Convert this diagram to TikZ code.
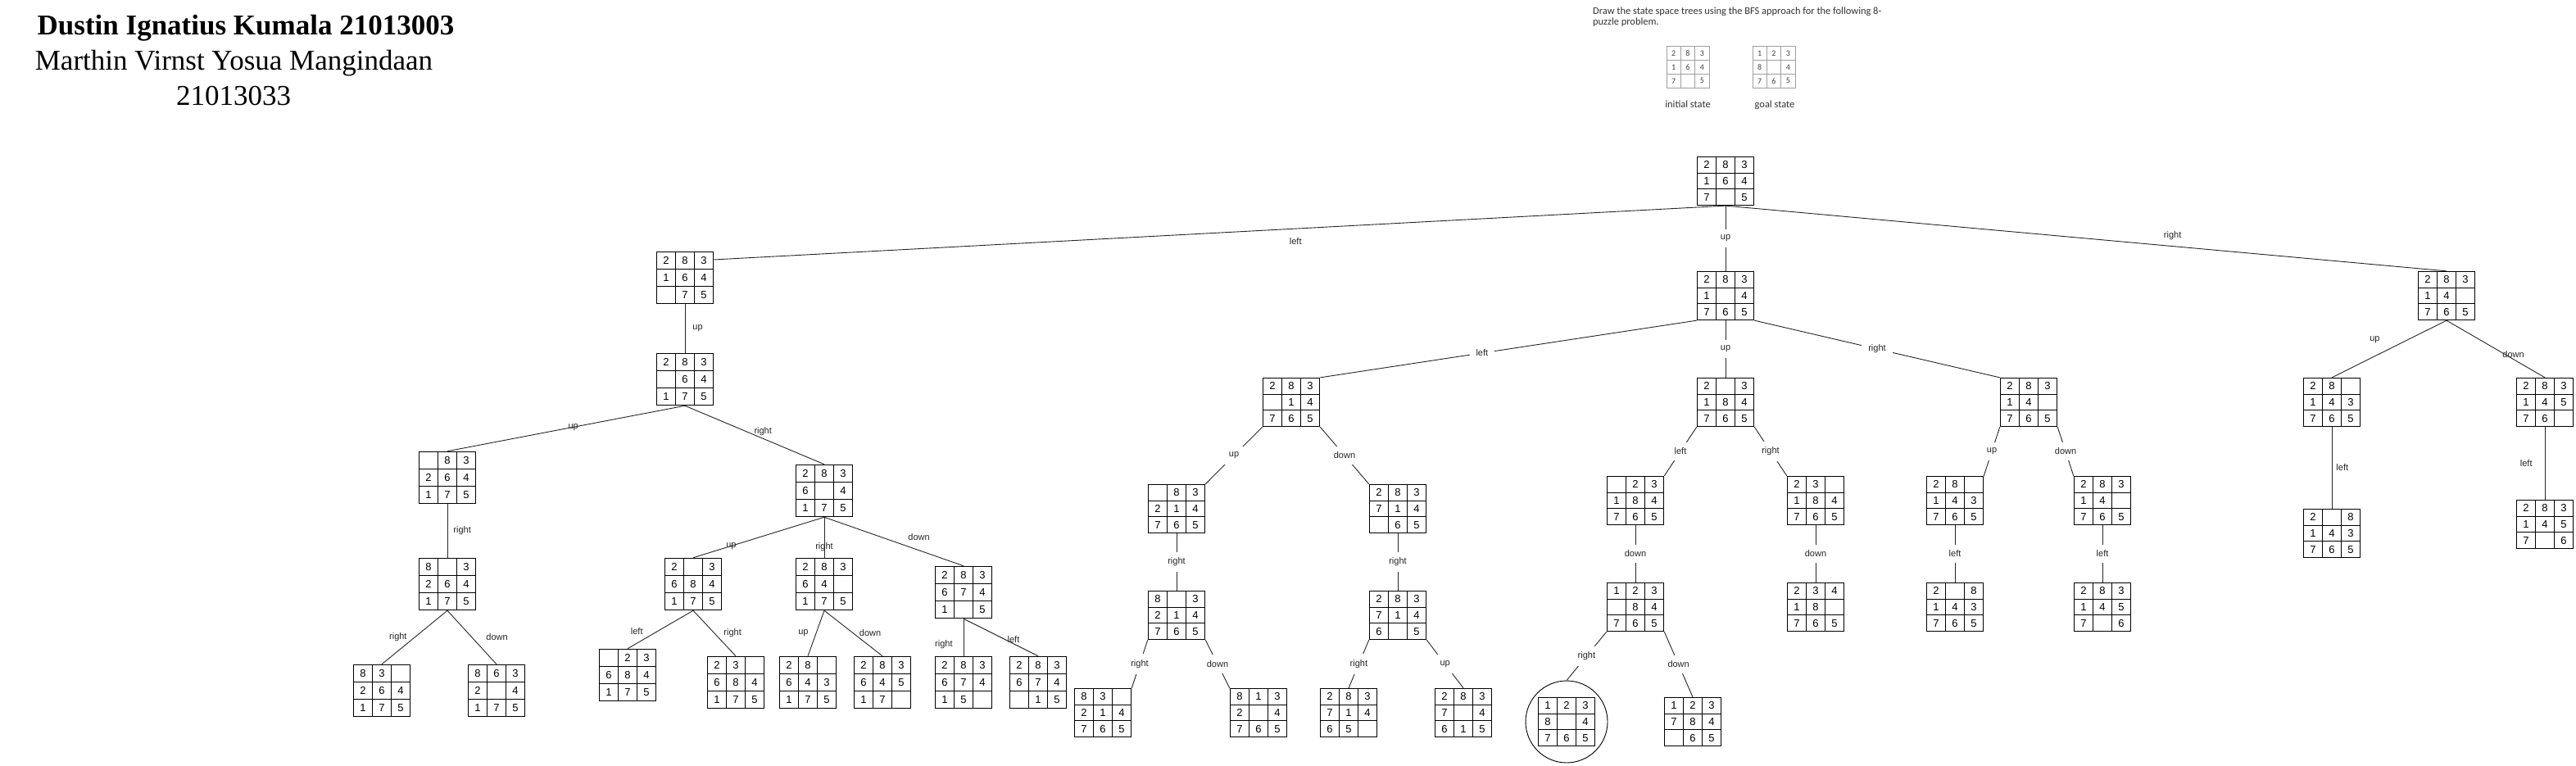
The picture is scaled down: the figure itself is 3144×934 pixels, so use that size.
\documentclass[tikz,border=0pt]{standalone}
\usepackage{fontspec}
\usepackage{tikz}
\usetikzlibrary{matrix}
\newfontfamily\cellfont{Liberation Sans}
\newfontfamily\titlefont{Liberation Serif}
\newfontfamily\notefont{Carlito}

\begin{document}
\begin{tikzpicture}[x=1pt, y=-1pt]
    % Styles
    \tikzstyle{cell} = [draw, line width=1.1pt, minimum width=23pt, minimum height=19.6pt, inner sep=0pt, anchor=center, font=\cellfont\fontsize{13}{15}\selectfont]
    \tikzstyle{state} = [matrix of nodes, nodes in empty cells, inner sep=0pt, column sep=-1.1pt, row sep=-1.1pt, nodes={cell}]
    \tikzstyle{tallstate} = [matrix of nodes, nodes in empty cells, inner sep=0pt, column sep=-1.1pt, row sep=-1.1pt, nodes={cell, minimum height=21pt}]
    \tikzstyle{smallcell} = [draw=gray!75, line width=0.7pt, minimum width=17.4pt, minimum height=16.8pt, inner sep=0pt, anchor=center, text=black!75, font=\notefont\fontsize{10}{12}\selectfont]
    \tikzstyle{smallstate} = [matrix of nodes, nodes in empty cells, inner sep=0pt, column sep=-0.7pt, row sep=-0.7pt, nodes={smallcell}]
    \tikzstyle{move} = [draw, line width=0.9pt, black!85]
    \tikzstyle{movelbl} = [font=\cellfont\fontsize{11}{13}\selectfont, inner sep=1pt]
    \tikzstyle{cutlbl} = [movelbl, fill=white, inner xsep=8pt, inner ysep=7pt]
    \tikzstyle{ring} = [draw, circle, line width=0.9pt, minimum size=100pt, inner sep=0pt]
    \tikzstyle{titletext} = [font=\titlefont\fontsize{35}{40}\selectfont, inner sep=0pt]
    \tikzstyle{notetext} = [font=\notefont\fontsize{12.4}{12.5}\selectfont, text=black!80, inner sep=0pt]

    \path [use as bounding box, fill=white] (0,0) rectangle (3144,934);

    % Header
    \node [titletext, anchor=base] (name1) at (300,43) {\bfseries Dustin Ignatius Kumala 21013003};
    \node [titletext, anchor=base] (name2) at (285.5,85) {Marthin Virnst Yosua Mangindaan};
    \node [titletext, anchor=base] (nim2) at (285,128) {21013033};

    % Problem statement
    \node [notetext, anchor=north west, align=left] (task) at (1944,9) {Draw the state space trees using the BFS approach for the following 8-\\puzzle problem.};
    \matrix [smallstate] (init) at (2060,82) {2 & 8 & 3 \\ 1 & 6 & 4 \\ 7 & & 5 \\};
    \matrix [smallstate] (goal) at (2165,82) {1 & 2 & 3 \\ 8 & & 4 \\ 7 & 6 & 5 \\};
    \node [notetext, anchor=base] (initlbl) at (2060,131) {initial state};
    \node [notetext, anchor=base] (goallbl) at (2166,131) {goal state};

    % States: root and level 1
    \matrix [state] (root) at (2106,221) {2 & 8 & 3 \\ 1 & 6 & 4 \\ 7 & & 5 \\};
    \matrix [tallstate] (A) at (836,339) {2 & 8 & 3 \\ 1 & 6 & 4 \\ & 7 & 5 \\};
    \matrix [state] (B) at (2106,361) {2 & 8 & 3 \\ 1 & & 4 \\ 7 & 6 & 5 \\};
    \matrix [state] (C) at (2986,361) {2 & 8 & 3 \\ 1 & 4 & \\ 7 & 6 & 5 \\};

    % States: left branch
    \matrix [tallstate] (A1) at (836,463) {2 & 8 & 3 \\ & 6 & 4 \\ 1 & 7 & 5 \\};
    \matrix [tallstate] (A11) at (546,583) { & 8 & 3 \\ 2 & 6 & 4 \\ 1 & 7 & 5 \\};
    \matrix [tallstate] (A12) at (1006,599) {2 & 8 & 3 \\ 6 & & 4 \\ 1 & 7 & 5 \\};
    \matrix [tallstate] (A111) at (546,713) {8 & & 3 \\ 2 & 6 & 4 \\ 1 & 7 & 5 \\};
    \matrix [tallstate] (A121) at (846,713) {2 & & 3 \\ 6 & 8 & 4 \\ 1 & 7 & 5 \\};
    \matrix [tallstate] (A122) at (1006,713) {2 & 8 & 3 \\ 6 & 4 & \\ 1 & 7 & 5 \\};
    \matrix [tallstate] (A123) at (1176,723) {2 & 8 & 3 \\ 6 & 7 & 4 \\ 1 & & 5 \\};
    \matrix [tallstate] (A1111) at (466,843) {8 & 3 & \\ 2 & 6 & 4 \\ 1 & 7 & 5 \\};
    \matrix [tallstate] (A1112) at (606,843) {8 & 6 & 3 \\ 2 & & 4 \\ 1 & 7 & 5 \\};
    \matrix [tallstate] (A1211) at (766,824) { & 2 & 3 \\ 6 & 8 & 4 \\ 1 & 7 & 5 \\};
    \matrix [tallstate] (A1212) at (898,833) {2 & 3 & \\ 6 & 8 & 4 \\ 1 & 7 & 5 \\};
    \matrix [tallstate] (A1221) at (986,833) {2 & 8 & \\ 6 & 4 & 3 \\ 1 & 7 & 5 \\};
    \matrix [tallstate] (A1222) at (1077,833) {2 & 8 & 3 \\ 6 & 4 & 5 \\ 1 & 7 & \\};
    \matrix [tallstate] (A1231) at (1176,833) {2 & 8 & 3 \\ 6 & 7 & 4 \\ 1 & 5 & \\};
    \matrix [tallstate] (A1232) at (1267,833) {2 & 8 & 3 \\ 6 & 7 & 4 \\ & 1 & 5 \\};

    % States: middle branch
    \matrix [state] (B1) at (1576,491) {2 & 8 & 3 \\ & 1 & 4 \\ 7 & 6 & 5 \\};
    \matrix [state] (B2) at (2106,491) {2 & & 3 \\ 1 & 8 & 4 \\ 7 & 6 & 5 \\};
    \matrix [state] (B3) at (2476,491) {2 & 8 & 3 \\ 1 & 4 & \\ 7 & 6 & 5 \\};
    \matrix [state] (B11) at (1436,621) { & 8 & 3 \\ 2 & 1 & 4 \\ 7 & 6 & 5 \\};
    \matrix [state] (B12) at (1706,621) {2 & 8 & 3 \\ 7 & 1 & 4 \\ & 6 & 5 \\};
    \matrix [state] (B111) at (1436,751) {8 & & 3 \\ 2 & 1 & 4 \\ 7 & 6 & 5 \\};
    \matrix [state] (B121) at (1706,751) {2 & 8 & 3 \\ 7 & 1 & 4 \\ 6 & & 5 \\};
    \matrix [state] (B1111) at (1346,870) {8 & 3 & \\ 2 & 1 & 4 \\ 7 & 6 & 5 \\};
    \matrix [state] (B1112) at (1536,870) {8 & 1 & 3 \\ 2 & & 4 \\ 7 & 6 & 5 \\};
    \matrix [state] (B1211) at (1646,870) {2 & 8 & 3 \\ 7 & 1 & 4 \\ 6 & 5 & \\};
    \matrix [state] (B1212) at (1786,870) {2 & 8 & 3 \\ 7 & & 4 \\ 6 & 1 & 5 \\};
    \matrix [state] (B21) at (1996,611) { & 2 & 3 \\ 1 & 8 & 4 \\ 7 & 6 & 5 \\};
    \matrix [state] (B22) at (2216,611) {2 & 3 & \\ 1 & 8 & 4 \\ 7 & 6 & 5 \\};
    \matrix [state] (B211) at (1996,741) {1 & 2 & 3 \\ & 8 & 4 \\ 7 & 6 & 5 \\};
    \matrix [state] (B221) at (2216,741) {2 & 3 & 4 \\ 1 & 8 & \\ 7 & 6 & 5 \\};
    \matrix [state] (B2111) at (1912,881) {1 & 2 & 3 \\ 8 & & 4 \\ 7 & 6 & 5 \\};
    \node [ring] (ring) at (B2111) {};
    \matrix [state] (B2112) at (2066,881) {1 & 2 & 3 \\ 7 & 8 & 4 \\ & 6 & 5 \\};
    \matrix [state] (B31) at (2386,611) {2 & 8 & \\ 1 & 4 & 3 \\ 7 & 6 & 5 \\};
    \matrix [state] (B32) at (2566,611) {2 & 8 & 3 \\ 1 & 4 & \\ 7 & 6 & 5 \\};
    \matrix [state] (B311) at (2386,741) {2 & & 8 \\ 1 & 4 & 3 \\ 7 & 6 & 5 \\};
    \matrix [state] (B321) at (2566,741) {2 & 8 & 3 \\ 1 & 4 & 5 \\ 7 & & 6 \\};

    % States: right branch
    \matrix [state] (C1) at (2846,491) {2 & 8 & \\ 1 & 4 & 3 \\ 7 & 6 & 5 \\};
    \matrix [state] (C2) at (3106,491) {2 & 8 & 3 \\ 1 & 4 & 5 \\ 7 & 6 & \\};
    \matrix [state] (C11) at (2846,651) {2 & & 8 \\ 1 & 4 & 3 \\ 7 & 6 & 5 \\};
    \matrix [state] (C21) at (3106,640) {2 & 8 & 3 \\ 1 & 4 & 5 \\ 7 & & 6 \\};

    % Moves from the root
    \draw [move] (root.south) -- node [movelbl, pos=0.425, below=10pt] {left} (A.32);
    \draw [move] (root) -- node [cutlbl] {up} (B);
    \draw [move] (root.south) -- node [movelbl, pos=0.62, above=6pt] {right} (C.north);

    % Moves, left branch
    \draw [move] (A) -- node [movelbl, right=8pt] {up} (A1);
    \draw [move] (A1.south) -- node [movelbl, pos=0.47] {up} (A11.north);
    \draw [move] (A1.south) -- node [movelbl, pos=0.56, above=2pt] {right} (A12.north);
    \draw [move] (A11) -- node [movelbl, right=6pt] {right} (A111);
    \draw [move] (A12.south) -- node [movelbl, pos=0.71] {up} (A121.north);
    \draw [move] (A12.south) -- node [movelbl, pos=0.74] {right} (A122.north);
    \draw [move] (A12.south) -- node [movelbl, pos=0.68, above=11pt] {down} (A123.north);
    \draw [move] (A111.south) -- node [movelbl, left=8pt] {right} (A1111.north);
    \draw [move] (A111.south) -- node [movelbl, right=16pt] {down} (A1112.north);
    \draw [move] (A121.south) -- node [movelbl, pos=0.75, anchor=south east, yshift=4pt] {left} (A1211.north);
    \draw [move] (A121.south) -- node [movelbl, right=10pt] {right} (A1212.north);
    \draw [move] (A122.south) -- node [movelbl, left=8pt] {up} (A1221.north);
    \draw [move] (A122.south) -- node [movelbl, right=6pt] {down} (A1222.north);
    \draw [move] (A123) -- node [movelbl, pos=0.7, left=12pt] {right} (A1231);
    \draw [move] (A123.south) -- node [movelbl, pos=0.67, above=0pt] {left} (A1232.north);

    % Moves, middle branch
    \draw [move] (B.south west) -- node [cutlbl, pos=0.57] {left} (B1.north east);
    \draw [move] (B) -- node [cutlbl] {up} (B2);
    \draw [move] (B.south east) -- node [cutlbl] {right} (B3.north west);
    \draw [move] (B1.south west) -- node [cutlbl] {up} (B11.north east);
    \draw [move] (B1.south east) -- node [cutlbl] {down} (B12.north west);
    \draw [move] (B11) -- node [cutlbl] {right} (B111);
    \draw [move] (B12) -- node [cutlbl] {right} (B121);
    \draw [move] (B111.south west) -- node [cutlbl] {right} (B1111.north east);
    \draw [move] (B111.south east) -- node [cutlbl] {down} (B1112.north west);
    \draw [move] (B121.south west) -- node [cutlbl] {right} (B1211.north);
    \draw [move] (B121.south east) -- node [cutlbl] {up} (B1212.north);
    \draw [move] (B2.south west) -- node [cutlbl] {left} (B21.north east);
    \draw [move] (B2.south east) -- node [cutlbl] {right} (B22.north west);
    \draw [move] (B21) -- node [cutlbl] {down} (B211);
    \draw [move] (B211.south west) -- node [cutlbl] {right} (ring.north);
    \draw [move] (B211.south east) -- node [cutlbl] {down} (B2112.north);
    \draw [move] (B22) -- node [cutlbl] {down} (B221);
    \draw [move] (B3.south west) -- node [cutlbl] {up} (B31.north east);
    \draw [move] (B3.south east) -- node [cutlbl] {down} (B32.north west);
    \draw [move] (B31) -- node [cutlbl] {left} (B311);
    \draw [move] (B32) -- node [cutlbl] {left} (B321);

    % Moves, right branch
    \draw [move] (C.south) -- node [movelbl, anchor=south east, xshift=-10pt, yshift=6pt] {up} (C1.north);
    \draw [move] (C.south) -- node [movelbl, pos=0.68, above] {down} (C2.north);
    \draw [move] (C1) -- node [movelbl, right=4pt] {left} (C11);
    \draw [move] (C2) -- node [movelbl, left=14pt] {left} (C21);
\end{tikzpicture}
\end{document}
